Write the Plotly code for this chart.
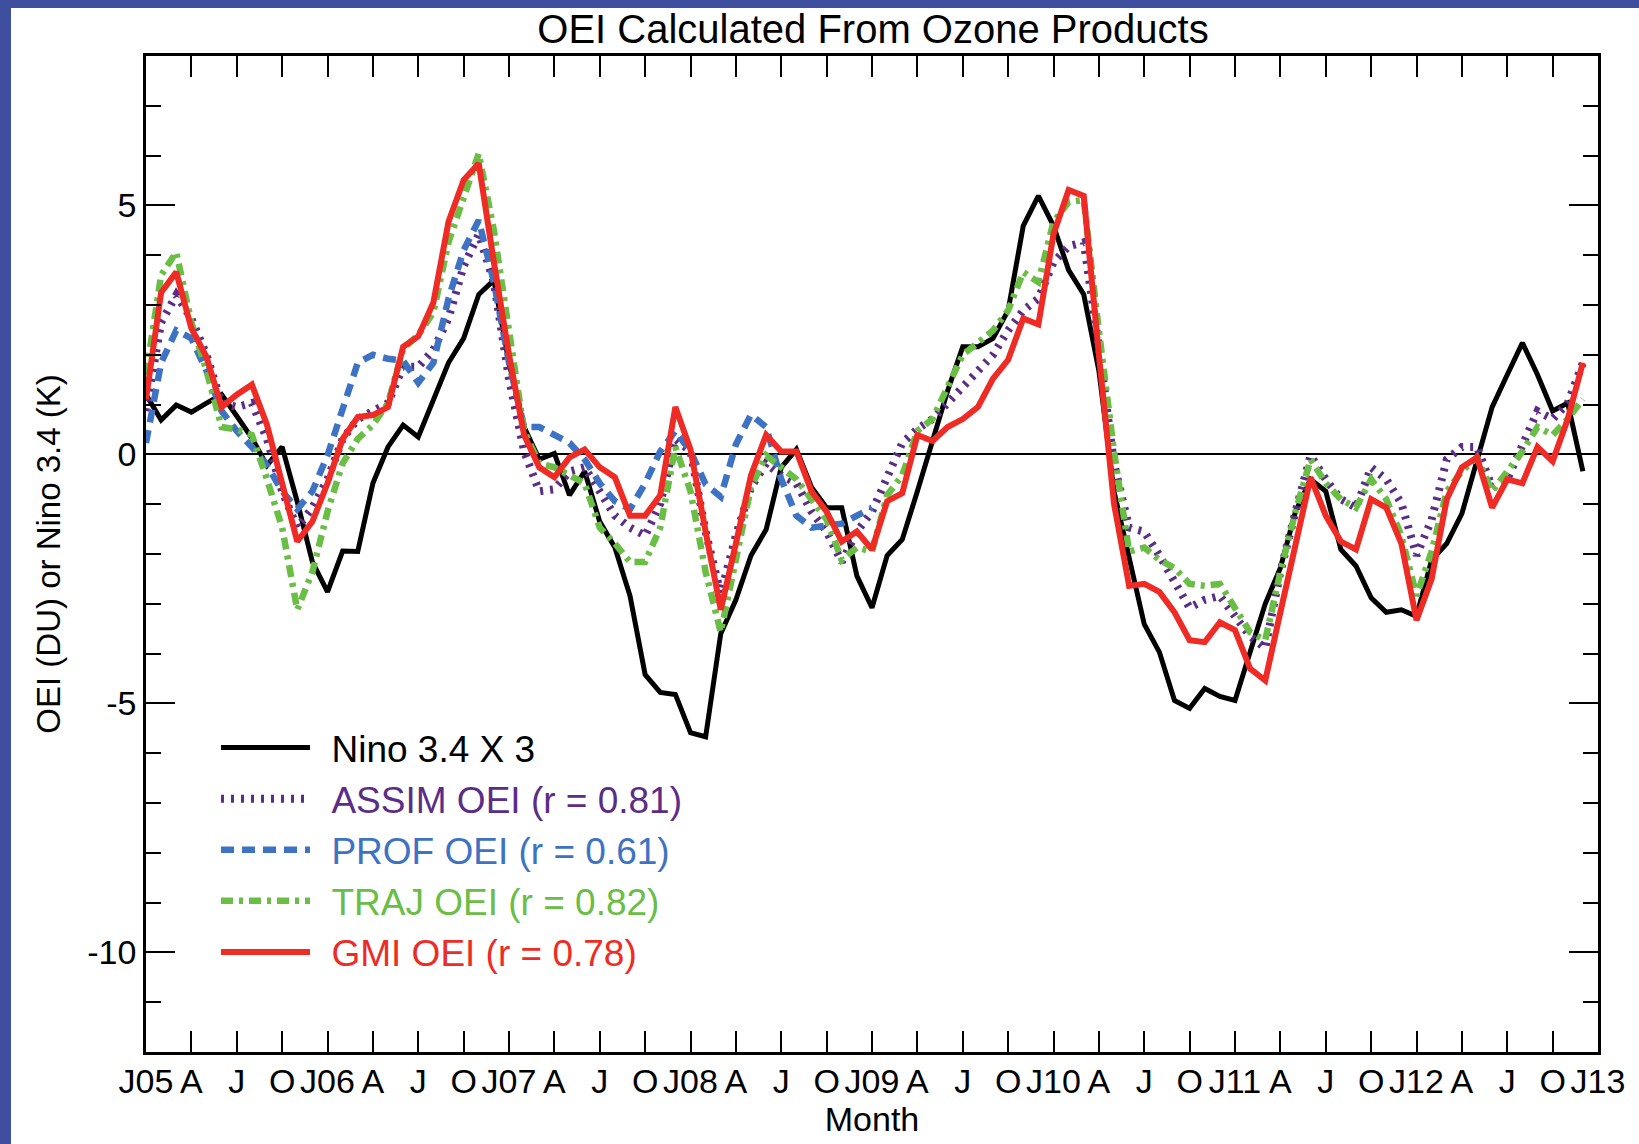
import plotly.graph_objects as go

# ---- data (month index 0 = Jan 2005) ----
months = list(range(96))
tick_months = [0, 3, 6, 9, 12, 15, 18, 21, 24, 27, 30, 33, 36, 39, 42, 45, 48,
               51, 54, 57, 60, 63, 66, 69, 72, 75, 78, 81, 84, 87, 90, 93, 96]
tick_labels = ["J05", "A", "J", "O", "J06", "A", "J", "O", "J07", "A", "J", "O",
               "J08", "A", "J", "O", "J09", "A", "J", "O", "J10", "A", "J", "O",
               "J11", "A", "J", "O", "J12", "A", "J", "O", "J13"]
y_ticks = [-10, -5, 0, 5]
y_tick_labels = ["-10", "-5", "0", "5"]

nino = [1.2, 0.69, 0.99, 0.85, 1.03, 1.2, 0.77, 0.33, -0.22, 0.15,
        -0.95, -2.16, -2.76, -1.94, -1.95, -0.58, 0.15, 0.59, 0.35, 1.1,
        1.84, 2.33, 3.21, 3.5, 1.84, 0.55, -0.1, 0.02, -0.82, -0.34,
        -1.35, -1.87, -2.84, -4.42, -4.78, -4.82, -5.59, -5.67, -3.6, -2.92,
        -2.03, -1.51, -0.26, 0.1, -0.66, -1.07, -1.07, -2.44, -3.08, -2.03,
        -1.71, -0.74, 0.31, 1.28, 2.16, 2.16, 2.33, 2.89, 4.59, 5.19,
        4.59, 3.7, 3.21, 1.68, -0.74, -2.03, -3.41, -3.97, -4.94, -5.1,
        -4.7, -4.86, -4.94, -3.97, -3.0, -2.28, -1.15, -0.5, -0.74, -1.91,
        -2.24, -2.88, -3.17, -3.12, -3.25, -2.12, -1.79, -1.19, -0.1, 0.95,
        1.6, 2.24, 1.6, 0.87, 1.03, -0.34]

assim = [0.87, 2.65, 3.2, 2.73, 2.0, 1.03, 0.95, 1.03, 0.31, -0.74,
         -1.47, -1.07, -0.5, 0.31, 0.71, 0.87, 1.03, 1.76, 1.76, 2.1,
         2.73, 3.78, 4.42, 3.46, 1.52, 0.06, -0.74, -0.7, -0.34, -0.26,
         -0.74, -1.23, -1.47, -1.63, -0.99, 0.31, 0.06, -1.55, -2.8, -1.63,
         -0.66, -0.18, -0.42, -0.58, -1.15, -1.55, -2.16, -1.55, -1.15, -0.42,
         0.23, 0.51, 0.71, 1.03, 1.36, 1.68, 2.0, 2.49, 2.89, 3.13,
         3.86, 4.18, 4.26, 2.16, -0.18, -1.47, -1.55, -2.03, -2.52, -3.08,
         -2.92, -2.84, -3.25, -3.65, -3.89, -2.36, -1.15, -0.02, -0.5, -0.9,
         -1.07, -0.26, -0.5, -0.98, -2.03, -1.31, -0.1, 0.15, 0.15, -0.66,
         -0.5, 0.15, 0.87, 0.71, 1.03, 1.84]

prof = [0.23, 1.84, 2.49, 2.33, 1.68, 0.87, 0.47, 0.15, -0.22, -0.74,
        -1.1, -0.74, -0.02, 0.87, 1.84, 2.0, 1.92, 1.88, 1.44, 1.84,
        3.13, 4.1, 4.7, 3.46, 1.84, 0.55, 0.55, 0.39, 0.23, -0.1,
        -0.58, -0.94, -1.1, -0.58, 0.06, 0.47, 0.06, -0.6, -0.85, 0.2,
        0.8, 0.55, -0.5, -1.23, -1.47, -1.43, -1.39, -1.23, -1.07]

traj = [1.6, 3.6, 4.06, 2.65, 1.68, 0.55, 0.5, 0.39, -0.5, -1.47,
        -3.12, -2.36, -1.15, -0.18, 0.31, 0.59, 1.03, 2.12, 2.4, 2.85,
        4.26, 5.15, 6.04, 4.5, 2.49, 0.47, -0.18, -0.26, -0.42, -0.58,
        -1.47, -1.79, -2.16, -2.16, -1.47, 0.15, -0.74, -2.36, -3.57, -2.12,
        -0.66, -0.02, -0.26, -0.5, -0.9, -1.31, -2.12, -1.87, -1.95, -0.82,
        -0.42, 0.47, 0.71, 1.36, 2.0, 2.24, 2.49, 2.89, 3.66, 3.46,
        4.67, 5.07, 5.11, 2.49, 0.06, -1.95, -1.87, -2.12, -2.28, -2.6,
        -2.64, -2.6, -3.08, -3.57, -3.73, -2.36, -1.15, -0.1, -0.58, -0.9,
        -1.07, -0.5, -0.9, -1.63, -2.84, -1.95, -0.74, -0.34, -0.06, -0.74,
        -0.34, 0.06, 0.55, 0.39, 0.71, 1.11]

gmi = [1.11, 3.25, 3.66, 2.53, 1.96, 0.95, 1.2, 1.40, 0.59, -0.58,
       -1.75, -1.35, -0.58, 0.31, 0.75, 0.79, 0.95, 2.16, 2.37, 3.05,
       4.67, 5.51, 5.84, 3.86, 2.0, 0.39, -0.26, -0.46, -0.06, 0.1,
       -0.26, -0.46, -1.23, -1.23, -0.82, 0.95, 0.1, -1.55, -3.12, -1.79,
       -0.42, 0.39, 0.06, 0.06, -0.74, -1.15, -1.75, -1.55, -1.91, -0.94,
       -0.78, 0.39, 0.27, 0.55, 0.71, 0.95, 1.52, 1.9, 2.73, 2.61,
       4.42, 5.31, 5.19, 2.0, -0.99, -2.64, -2.6, -2.76, -3.17, -3.73,
       -3.77, -3.37, -3.53, -4.3, -4.54, -3.17, -1.81, -0.46, -1.23, -1.75,
       -1.91, -0.9, -1.07, -1.79, -3.33, -2.5, -0.9, -0.26, -0.06, -1.07,
       -0.5, -0.58, 0.15, -0.14, 0.71, 1.84]

BLACK = "#000000"
PURPLE = "#5B2D86"
BLUE = "#3E73C4"
GREEN = "#6ABD45"
RED = "#EE2B24"
FONT = "Liberation Sans, Arial, Helvetica, sans-serif"

fig = go.Figure()

series = [
    ("Nino 3.4 X 3", months, nino, BLACK, 5, "solid"),
    ("ASSIM OEI (r = 0.81)", months, assim, PURPLE, 8, "3px,7px"),
    ("PROF OEI (r = 0.61)", months[:len(prof)], prof, BLUE, 6.5, "13px,8px"),
    ("TRAJ OEI (r = 0.82)", months, traj, GREEN, 6.5, "12px,6px,4px,6px"),
    ("GMI OEI (r = 0.78)", months, gmi, RED, 6, "solid"),
]
for name, xs, ys, col, w, dash in series:
    fig.add_trace(go.Scatter(
        x=xs, y=ys, mode="lines",
        name=f"<span style='color:{col}'>\u00a0\u2006{name}</span>",
        line=dict(color=col, width=w, dash=dash),
    ))

W, H = 1639, 1144
L, R, T, B = 146, 41, 56, 92
pw, ph = W - L - R, H - T - B

def px_x(p):
    return (p - L) / pw

def px_y(p):
    return (H - B - p) / ph

fig.update_layout(
    width=W, height=H,
    margin=dict(l=L, r=R, t=T, b=B),
    paper_bgcolor="white", plot_bgcolor="white",
    font=dict(family=FONT, color="black", size=34),
    title=dict(text="OEI Calculated From Ozone Products",
               x=873 / W, xref="container", xanchor="center",
               y=1 - 29 / H, yref="container", yanchor="middle",
               font=dict(size=40, family=FONT, color="black")),
    showlegend=True,
    legend=dict(x=px_x(216), y=px_y(717), xanchor="left", yanchor="top",
                bgcolor="rgba(0,0,0,0)", borderwidth=0,
                font=dict(size=37, family=FONT),
                itemwidth=89, tracegroupgap=0),
    xaxis=dict(range=[0, 96], tickmode="array", tickvals=tick_months,
               ticktext=tick_labels, tickangle=0,
               ticks="inside", ticklen=21, tickwidth=2, tickcolor="black",
               showline=True, linecolor="black", linewidth=2.5,
               mirror="ticks", showgrid=False, zeroline=False,
               tickfont=dict(size=34), ticklabelstandoff=-3,
               title=dict(text="Month", font=dict(size=34), standoff=0)),
    yaxis=dict(range=[-12, 8], tickmode="array", tickvals=y_ticks,
               ticktext=y_tick_labels,
               ticks="inside", ticklen=29, tickwidth=2, tickcolor="black",
               minor=dict(dtick=1, ticks="inside", ticklen=15, tickwidth=2,
                          tickcolor="black", showgrid=False),
               showline=True, linecolor="black", linewidth=2.5,
               mirror="ticks", showgrid=False,
               zeroline=True, zerolinecolor="black", zerolinewidth=1.5,
               tickfont=dict(size=34),
               title=dict(text="OEI (DU) or Nino 3.4 (K)", font=dict(size=33),
                          standoff=17)),
    shapes=[
        dict(type="rect", xref="paper", yref="paper", layer="above",
             x0=px_x(0), x1=px_x(11), y0=px_y(H), y1=px_y(0),
             fillcolor="#3F4F9F", line=dict(width=0)),
        dict(type="rect", xref="paper", yref="paper", layer="above",
             x0=px_x(0), x1=px_x(W), y0=px_y(8), y1=px_y(0),
             fillcolor="#3F4F9F", line=dict(width=0)),
    ],
)

fig.write_html("out.html")
